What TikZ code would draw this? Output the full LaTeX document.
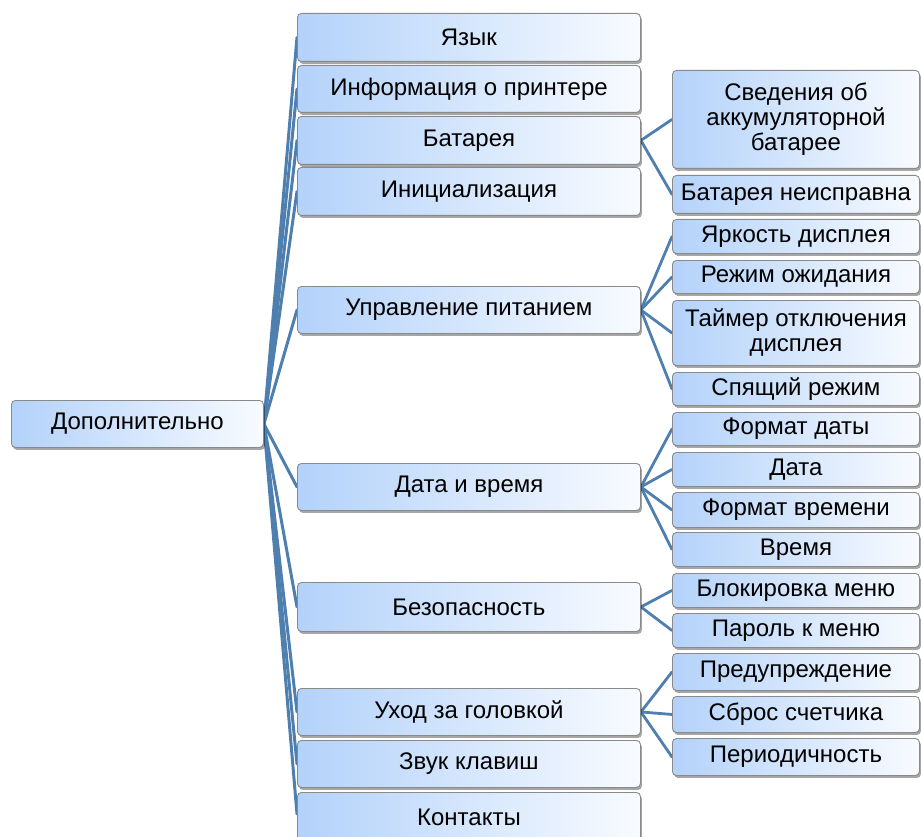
\documentclass[tikz,border=0pt]{standalone}
\usepackage{fontspec}
\setmainfont{Liberation Sans}
\usetikzlibrary{shadows,backgrounds}
\definecolor{lnc}{HTML}{4E7FAE}
\definecolor{boxL}{HTML}{B3D2FA}
\definecolor{boxR}{HTML}{F8FBFF}
\definecolor{boxborder}{HTML}{8A8A8A}
\tikzset{
  box/.style={draw=boxborder, line width=0.9pt, rounded corners=4pt,
    left color=boxL, right color=boxR, inner sep=0pt, align=center,
    font=\fontsize{24}{25}\selectfont,
    drop shadow={shadow xshift=1.5pt, shadow yshift=-2.5pt, fill=black, opacity=0.35}},
  conn/.style={draw=lnc, line width=3pt, line cap=round},
  conntwo/.style={draw=lnc, line width=2.8pt, line cap=round}
}
\newcommand\mybox[6]{\node[box, anchor=north west, minimum width={#4pt-#2pt}, minimum height={#5pt-#3pt}] (#1) at (#2,#3) {#6};}
\begin{document}
\begin{tikzpicture}[x=1pt,y=-1pt]
\useasboundingbox (0,0) rectangle (921,837);
\clip (0,0) rectangle (921,837);
\mybox{root}{11}{400}{263}{447}{Дополнительно}
% level 1
\mybox{a1}{297}{13}{640}{61}{Язык}
\mybox{a2}{297}{65}{640}{112}{Информация о принтере}
\mybox{a3}{297}{116}{640}{164}{Батарея}
\mybox{a4}{297}{167}{640}{215}{Инициализация}
\mybox{a5}{297}{286}{640}{333}{Управление питанием}
\mybox{a6}{297}{463}{640}{510}{Дата и время}
\mybox{a7}{297}{582}{640}{631}{Безопасность}
\mybox{a8}{297}{688}{640}{735}{Уход за головкой}
\mybox{a9}{297}{740}{640}{787}{Звук клавиш}
\mybox{a10}{297}{792}{640}{860}{\raisebox{19pt}{Контакты}}
% level 2
\mybox{b1}{672}{70}{919}{168}{Сведения об\\аккумуляторной\\батарее}
\mybox{b2}{672}{175}{919}{213}{Батарея неисправна}
\mybox{c1}{672}{219}{919}{253}{Яркость дисплея}
\mybox{c2}{672}{260}{919}{293}{Режим ожидания}
\mybox{c3}{672}{300}{919}{365}{Таймер отключения\\дисплея}
\mybox{c4}{672}{372}{919}{405}{Спящий режим}
\mybox{d1}{672}{412}{919}{445}{Формат даты}
\mybox{d2}{672}{452}{919}{486}{Дата}
\mybox{d3}{672}{492}{919}{527}{Формат времени}
\mybox{d4}{672}{532}{919}{566}{Время}
\mybox{e1}{672}{573}{919}{607}{Блокировка меню}
\mybox{e2}{672}{613}{919}{647}{Пароль к меню}
\mybox{f1}{672}{653}{919}{690}{Предупреждение}
\mybox{f2}{672}{696}{919}{732}{Сброс счетчика}
\mybox{f3}{672}{738}{919}{775}{Периодичность}
\begin{scope}[on background layer]
\foreach \n in {a1,a2,a3,a4,a5,a6,a7,a8,a9}
  \draw[conn] (root.east) -- (\n.west);
\draw[conn] (root.east) -- ([yshift=-22pt]a10.north west);
\foreach \n in {b1,b2} \draw[conntwo] (a3.east) -- (\n.west);
\foreach \n in {c1,c2,c3,c4} \draw[conntwo] (a5.east) -- (\n.west);
\foreach \n in {d1,d2,d3,d4} \draw[conntwo] (a6.east) -- (\n.west);
\foreach \n in {e1,e2} \draw[conntwo] (a7.east) -- (\n.west);
\foreach \n in {f1,f2,f3} \draw[conntwo] (a8.east) -- (\n.west);
\end{scope}
\end{tikzpicture}
\end{document}
